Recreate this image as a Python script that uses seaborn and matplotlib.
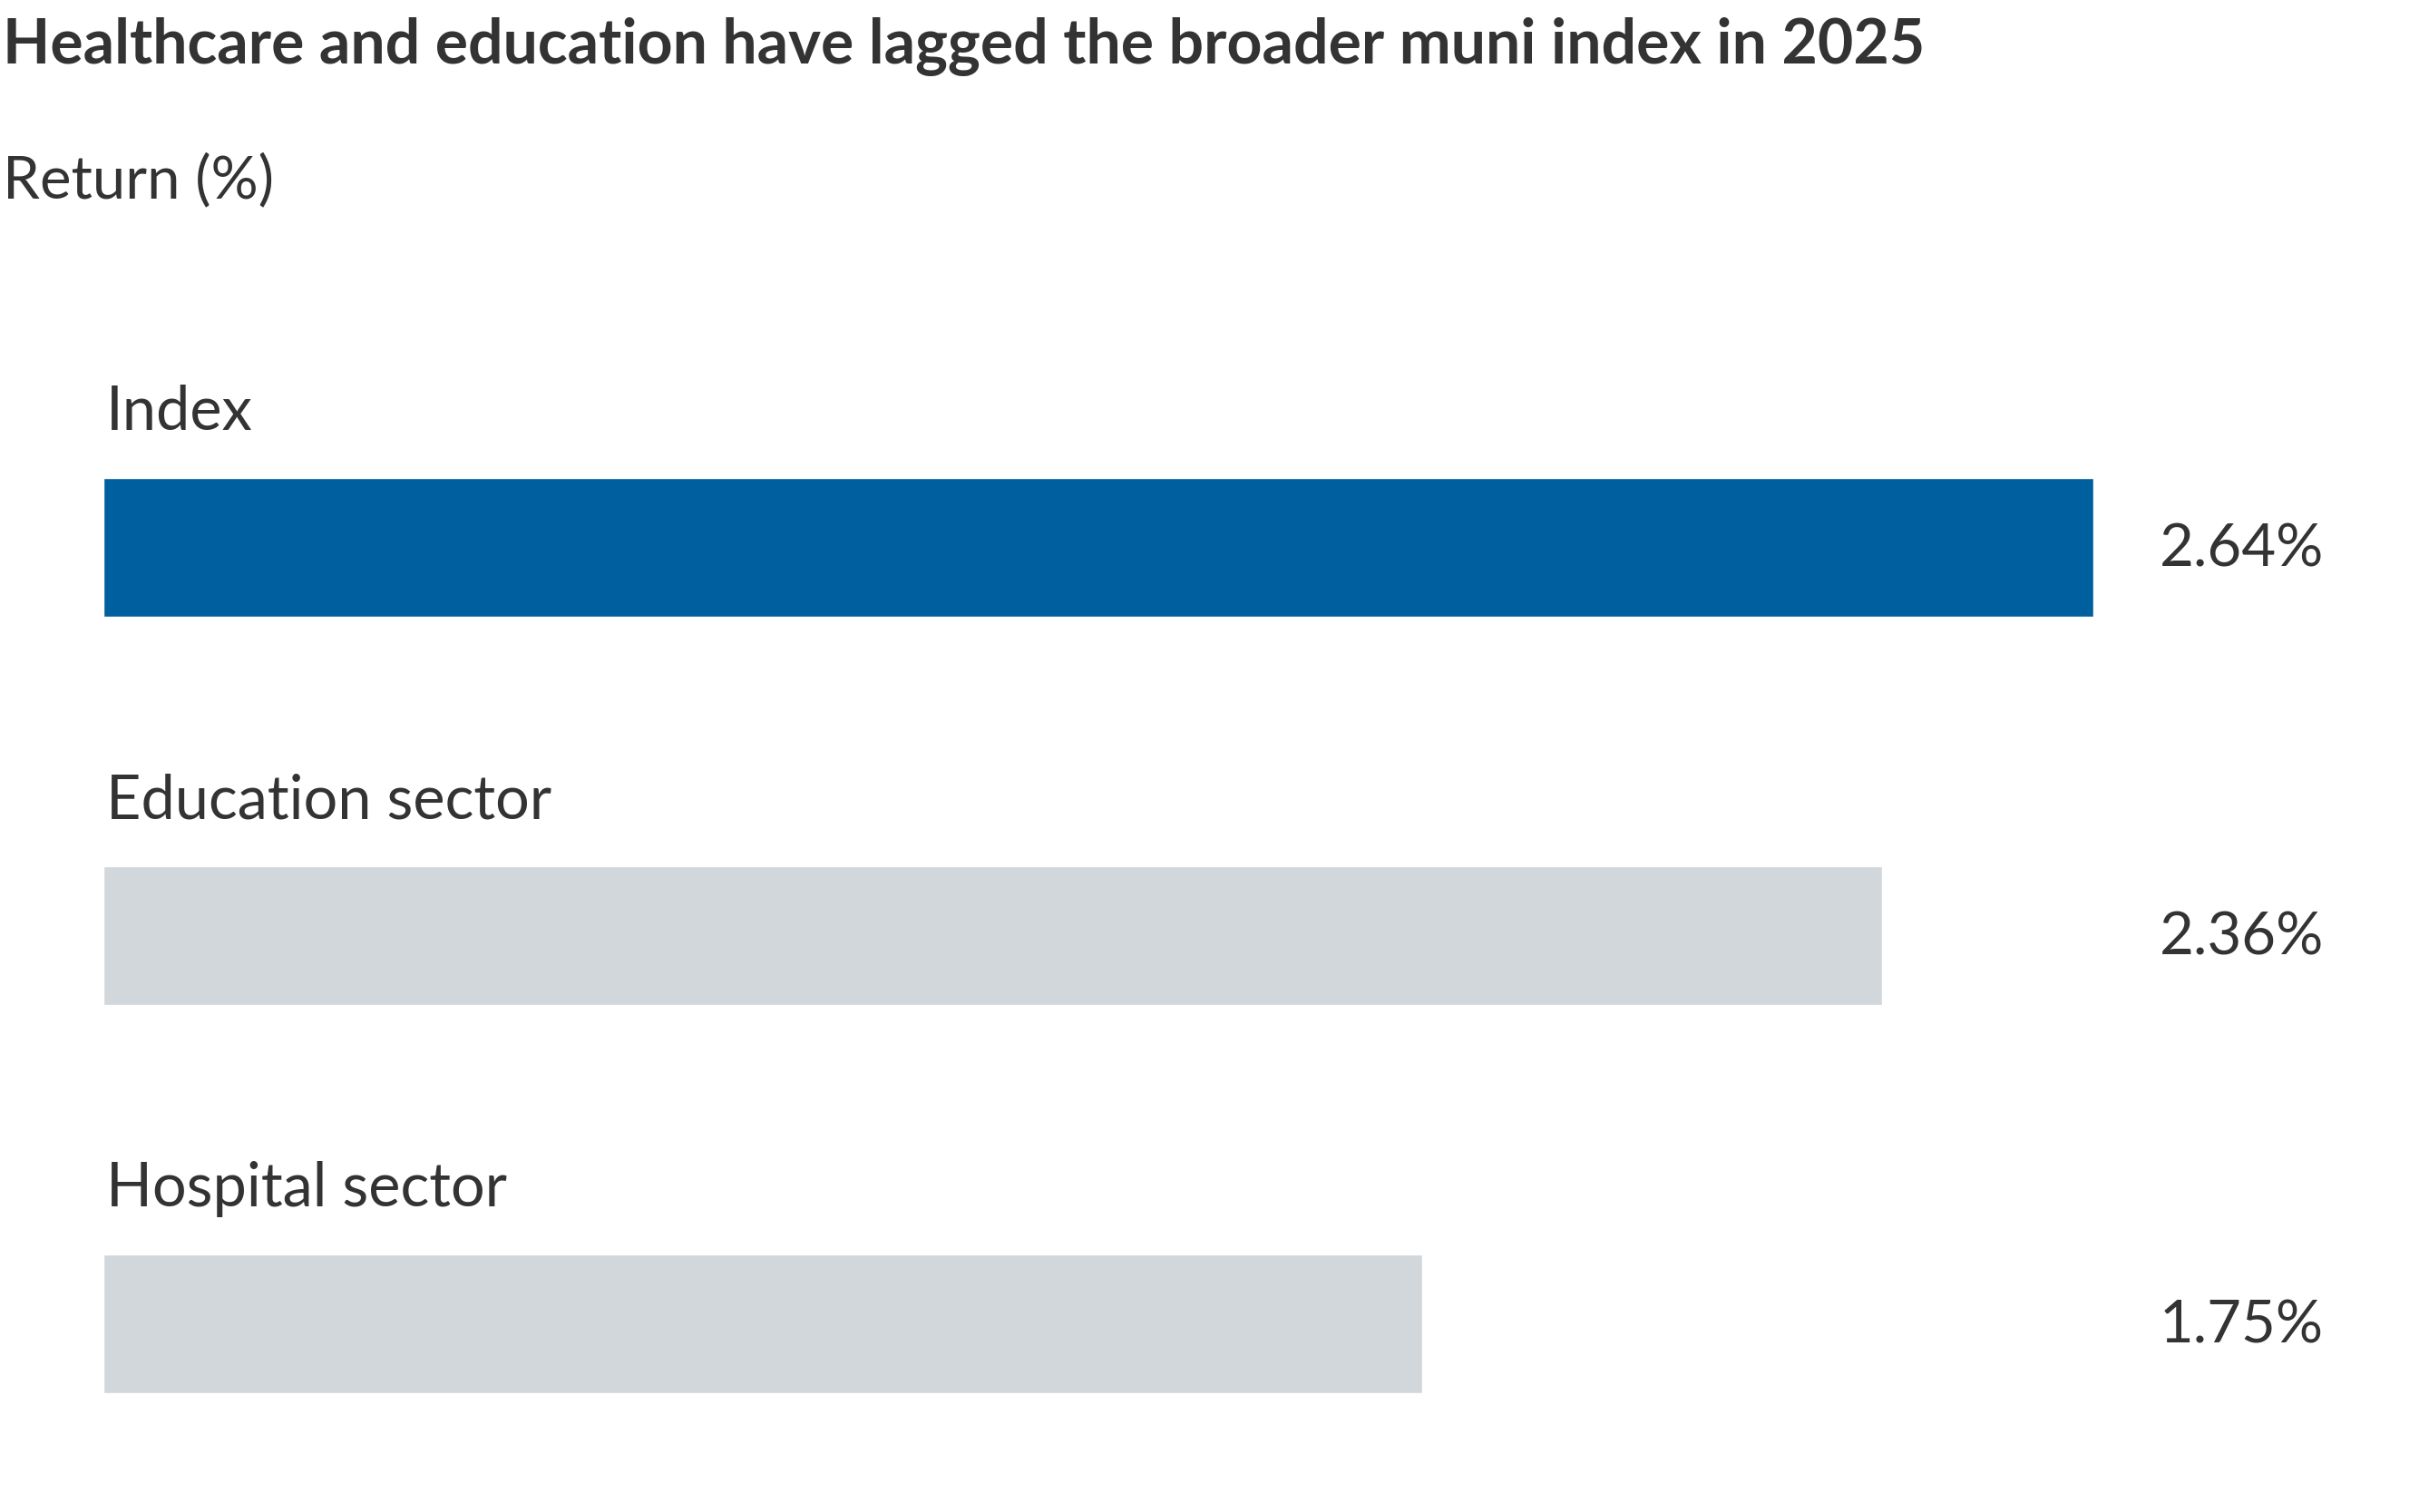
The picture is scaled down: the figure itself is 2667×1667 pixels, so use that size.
import matplotlib
matplotlib.use("Agg")
import matplotlib.pyplot as plt
import seaborn as sns
import pandas as pd

# Datos
categorias = ["Index", "Education sector", "Hospital sector"]
retornos = [2.64, 2.36, 1.75]
etiquetas = ["2.64%", "2.36%", "1.75%"]
colores = ["#005f9e", "#d1d7da", "#d1d7da"]

titulo = "Healthcare and education have lagged the broader muni index in 2025"
subtitulo = "Return (%)"

df = pd.DataFrame({"categoria": categorias, "retorno": retornos})

sns.set_style("white")
plt.rcParams["font.family"] = ["Lato", "DejaVu Sans"]
color_texto = "#333333"

fig = plt.figure(figsize=(26.67, 16.67), dpi=100)
ax = fig.add_axes([0.0428, 0, 0.9572, 1])

sns.barplot(data=df, x="retorno", y="categoria", hue="categoria",
            palette=colores, width=0.357, saturation=1, legend=False,
            orient="h", ax=ax)

ax.set_xlim(0, 3.072)
ax.set_ylim(2.484, -1.411)
ax.set_xlabel("")
ax.set_ylabel("")
ax.set_xticks([])
ax.set_yticks([])
for s in ax.spines.values():
    s.set_visible(False)

# Etiquetas de categoria y valores
for i, (cat, lab) in enumerate(zip(categorias, etiquetas)):
    ax.text(0.003, i - 0.303, cat, ha="left", va="baseline",
            fontsize=48, fontweight="normal", color=color_texto)
    ax.text(2.946, i + 0.049, lab, ha="right", va="baseline",
            fontsize=47, fontweight="normal", color=color_texto)

fig.text(0.001, 1 - 70 / 1667, titulo, ha="left", va="baseline",
         fontsize=49, fontweight="bold", color=color_texto)
fig.text(0.001, 1 - 218 / 1667, subtitulo, ha="left", va="baseline",
         fontsize=47, fontweight="normal", color=color_texto)

fig.savefig("out.png", dpi=100, facecolor="white")
